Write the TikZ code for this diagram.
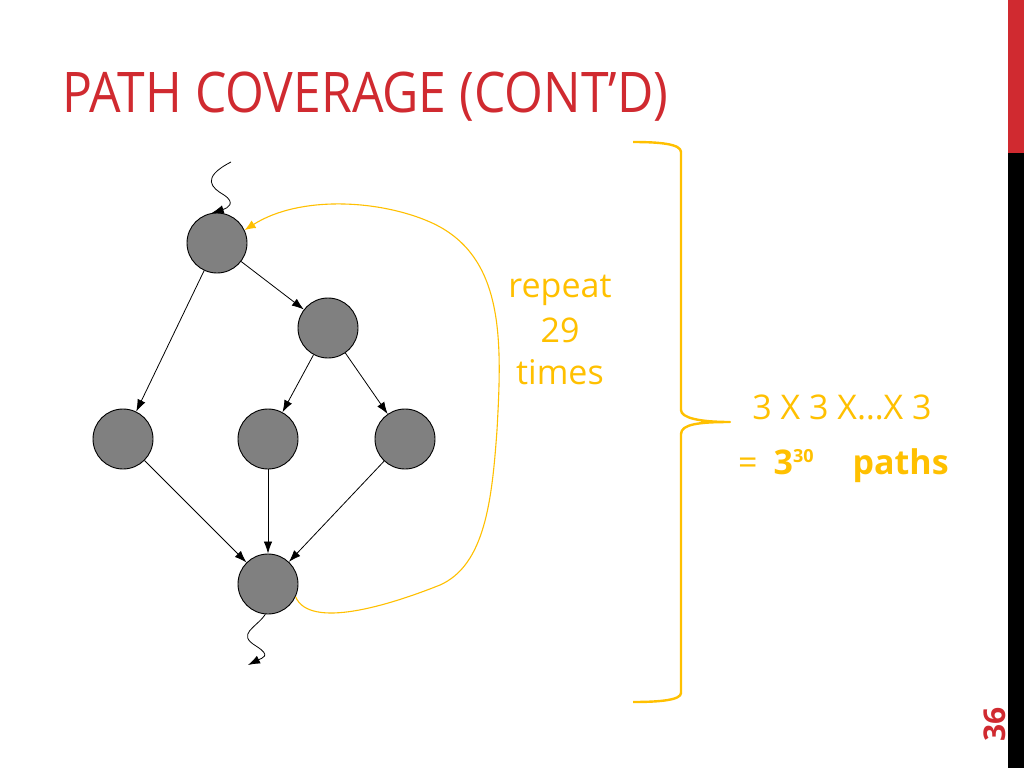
\documentclass[tikz,border=0pt]{standalone}
\usepackage{fontspec}
\setmainfont{Open Sans}
\usetikzlibrary{arrows.meta}
\definecolor{titlered}{HTML}{D02A30}
\definecolor{gold}{HTML}{FFC000}
\definecolor{nodegray}{HTML}{808080}
\begin{document}
\begin{tikzpicture}[x=1pt,y=-1pt,
  vtx/.style={circle,draw=black,line width=0.9pt,fill=nodegray,minimum size=60pt,inner sep=0pt},
  edge/.style={line width=0.8pt,-{Latex[length=12pt,width=8.5pt]}},
  loopline/.style={draw=gold,line width=1.1pt,-{Latex[length=11pt,width=9pt]}},
  bracel/.style={draw=gold,line width=2.4pt,line join=round},
  goldtxt/.style={text=gold,font=\fontsize{34}{40}\selectfont,inner sep=0pt}]
\useasboundingbox (0,0) rectangle (1024,768);
\fill[white] (0,0) rectangle (1024,768);
% side bar
\fill[titlered] (1008,0) rectangle (1024,153);
\fill[black] (1008,153) rectangle (1024,768);
% title
\node[anchor=base west,inner sep=0pt,text=titlered,font=\fontsize{56}{62}\selectfont,xscale=0.89] (title) at (62,112) {PATH COVERAGE (CONT’D)};
% page number
\node[rotate=90,text=titlered,font=\bfseries\fontsize{30}{34}\selectfont,inner sep=0pt] (pnum) at (995,724) {36};
% nodes
\node[vtx] (a) at (217,243) {};
\node[vtx] (b) at (328,328) {};
\node[vtx] (c) at (123,439) {};
\node[vtx] (d) at (268,439) {};
\node[vtx] (e) at (405,439) {};
\node[vtx] (f) at (268,584) {};
% edges
\draw[edge] (a.-115) -- (c);
\draw[edge] (a) -- (b);
\draw[edge] (b) -- (d);
\draw[edge] (b) -- (e);
\draw[edge] (c) -- (f);
\draw[edge] (d) -- (f);
\draw[edge] (e) -- (f);
% wiggly in/out
\coordinate (inS) at (231,162);
\coordinate (outE) at (248,665);
\draw[edge] (inS) .. controls (200,178) and (212,188) .. (224,195) .. controls (236,203) and (228,208) .. (a.100);
\draw[edge] (f.-95) .. controls (256,628) and (236,634) .. (256,646) .. controls (272,656) and (262,658) .. (outE);
% loop
\draw[loopline] (f.-25) .. controls (310,630) and (390,605) .. (440,585) .. controls (485,565) and (492,500) .. (497,430) .. controls (502,340) and (505,255) .. (430,222) .. controls (380,200) and (300,195) .. (a.25);
% texts
\node[goldtxt] (rep) at (560,290) {repeat};
\node[goldtxt] (n29) at (560,330) {29};
\node[goldtxt] (tim) at (560,372) {times};
\node[goldtxt] (prod) at (842,407) {3 X 3 X…X 3};
\node[goldtxt,anchor=base west] (eq) at (738,474) {=\hspace{16pt}\textbf{3}\raisebox{12pt}{\fontsize{18}{20}\selectfont\textbf{30}}\hspace{39pt}\textbf{paths}};
% brace
\draw[bracel] (633,142) .. controls (660,142) and (681,144) .. (681,152) -- (681,410) .. controls (681,418) and (700,422) .. (730,422) .. controls (700,422) and (681,424) .. (681,434) -- (681,693) .. controls (681,700) and (660,702) .. (633,702);
\end{tikzpicture}
\end{document}
